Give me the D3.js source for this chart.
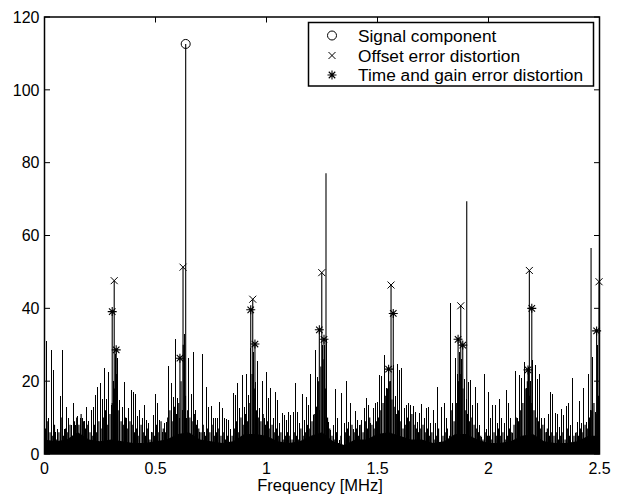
<!DOCTYPE html>
<html><head><meta charset="utf-8">
<script src="https://cdn.jsdelivr.net/npm/d3@7/dist/d3.min.js"></script>
<style>
html,body{margin:0;padding:0;background:#fff;}
text{font-family:"Liberation Sans",Arial,Helvetica,sans-serif;fill:#000;}
</style></head>
<body>
<svg id="chart" width="621" height="495"></svg>
<script>
// ---- data ----
const xTicks = [0, 0.5, 1, 1.5, 2, 2.5];
const xTickLabels = ["0", "0.5", "1", "1.5", "2", "2.5"];
const yTicks = [0, 20, 40, 60, 80, 100, 120];
const xLabel = "Frequency [MHz]";
const legendLabels = ["Signal component", "Offset error distortion", "Time and gain error distortion"];

// noise spectrum bins (0.01 MHz spacing), magnitude of the taller stems
const binWidth = 0.01;
const noiseValues = [
 4,31,10,28.5,23,6,7,16,28.5,7, 13,10,8,14,8,10.5,10,10,9,13,
 9,12,13,16.3,18.5,19.4,15,23.5,15,22.6, 13.4,20,27.5,26.3,14.8,13,19.8,9.8,12.5,17.6,
 17.1,16.6,10.4,12,10,13.4,9.3,8.4,6,10.7, 16.6,14,9.3,6,8.4,8.9,24.2,19.4,15.7,31.6,
 15.3,10,12,33,10,26.3,16.6,28.1,12,9.3, 6,27.5,6.1,18.5,13,13.3,10,9.8,9.8,14.4,
 12.5,9.8,9.5,9.3,7,16.8,16.2,19.4,12.5,21.7, 13,21.9,16.2,29,28,19.8,25.6,12.5,20.1,9.8,
 22.4,15.3,18,10,17.1,14.8,8.4,11.2,10.7,9.3, 11.6,10.7,11.6,19.4,11.6,8.4,16.6,9.3,15.7,13.4,
 22.1,10.7,28.5,21.2,12,30,30,31.5,8.9,6.6, 8,17.8,10,3.8,16.8,8.4,20.1,8.9,14,7,
 11.9,9.3,8,9.3,12.5,15.3,13.4,8.4,12.5,14, 14.4,21.7,21.4,27.2,18,24,20,24.4,16,24.7,
 23.2,23.5,12.5,13.4,14.1,13.4,13.2,11.6,8.9,11.2, 13.6,9.8,12.5,13,8.4,12,8.4,18.5,3.4,13,
 14.1,10,3.8,41.4,14,26.3,22,28,26,20.5, 15,19.8,20.3,13.4,18.5,14,8,4.7,22.1,7,
 17.1,9.8,13.4,13.4,8.4,15,10,8.4,17.6,14, 9.8,5.7,22.9,9.8,21.7,20.8,25.3,18,24,20,
 25.8,24.4,20.5,22,10,9.8,6.1,11,17.1,16.6, 11.2,11,7.5,12.3,10.7,13.2,14,8,20.8,5.7,
 8.9,14.5,8.4,18,8.9,22.1,12,26.7,11.6,30, 20
];
// in-between bins (offset by half a bin), lower stems of the dense floor
const lowValues = [
 7,9,6,5,8,4,6,10,5,7, 6,8,5,9,10,8,11,9,7,8,
 6,5,8,6,9,7,10,12,8,11, 14,18,22,12,9,8,10,7,9,8,
 6,7,5,8,6,5,7,4,6,5, 8,6,9,7,6,10,12,9,13,11,
 14,20,30,16,12,10,9,11,8,7, 6,8,5,7,6,8,5,6,7,5,
 6,4,5,3,5,7,9,6,10,8, 11,9,14,22,18,12,10,9,11,8,
 9,7,8,6,7,5,6,4,5,6, 5,4,6,5,4,7,5,6,8,7,
 9,11,13,20,24,26,18,10,7,5, 4,6,3,5,2,6,7,5,8,6,
 7,5,8,6,9,7,10,8,7,9, 10,12,14,16,18,20,15,13,11,12,
 9,7,8,10,9,11,8,7,6,7, 8,6,7,5,6,4,5,7,3,5,
 6,7,5,12,9,14,20,22,18,12, 11,9,10,8,7,6,5,4,6,5,
 5,4,6,5,7,5,6,4,5,7, 6,8,10,9,12,14,18,20,16,14,
 12,10,9,7,8,6,7,5,6,5, 6,4,5,6,4,7,5,3,5,6,
 5,7,6,8,7,10,12,14,11,16
];
// solid floor level (0.05 MHz spacing)
const floorStep = 0.05;
const floorValues = [
 4,3.5,4,6,4,3.5,4,3.5,3,3, 3.5,4,5.5,6,4,3.5,3,3.5,5.5,5.5,
 5,3.5,3,3.5,5,6,3.5,2.5,4,4, 5.5,6,5,4,4,3,3.5,5.5,5.5,4,
 3,3,3.5,5,5.5,3.5,3,3,3.5,5, 5
];
// strong unmarked spurs
const spurFreq = [1.268, 1.902, 2.462];
const spurValue = [77.1, 69.4, 56.6];
// signal component
const signalFreq = [0.636];
const signalValue = [112.6];
// offset error distortion
const offsetFreq = [0.314, 0.624, 0.938, 1.249, 1.561, 1.875, 2.184, 2.498];
const offsetValue = [47.6, 51.3, 42.5, 49.8, 46.4, 40.7, 50.4, 47.3];
// time and gain error distortion
const tgFreq = [0.305, 0.323, 0.610, 0.929, 0.948, 1.238, 1.259, 1.550, 1.571, 1.863, 1.884, 2.178, 2.195, 2.487];
const tgValue = [39.1, 28.6, 26.3, 39.6, 30.2, 34.1, 31.5, 23.3, 38.6, 31.5, 29.9, 23.1, 40.0, 33.8];

// ---- drawing ----
const svg = d3.select("#chart");
const x = d3.scaleLinear().domain([0, 2.5]).range([44.5, 599.5]);
const y = d3.scaleLinear().domain([0, 120]).range([454, 17]);

const plot = svg.append("g");
plot.append("clipPath").attr("id","clip").append("rect")
  .attr("x", x(0)).attr("y", y(120)).attr("width", x(2.5)-x(0)).attr("height", y(0)-y(120));
const g = plot.append("g").attr("clip-path","url(#clip)");

// floor
const floorData = floorValues.map((v,i)=>({f:i*floorStep, v}));
g.append("path").datum(floorData)
  .attr("d", d3.area().x(d=>x(d.f)).y0(y(0)).y1(d=>y(d.v)))
  .attr("fill","#000");

// low stems
g.selectAll("line.low").data(lowValues).join("line").attr("class","low")
  .attr("x1",(d,i)=>x((i+0.5)*binWidth)).attr("x2",(d,i)=>x((i+0.5)*binWidth))
  .attr("y1",y(0)).attr("y2",d=>y(d))
  .attr("stroke","#000").attr("stroke-width",1.2);

// noise stems
g.selectAll("line.noise").data(noiseValues).join("line").attr("class","noise")
  .attr("x1",(d,i)=>x(i*binWidth)).attr("x2",(d,i)=>x(i*binWidth))
  .attr("y1",y(0)).attr("y2",d=>y(d))
  .attr("stroke","#000").attr("stroke-width",1)
  .attr("shape-rendering","crispEdges");

function stems(fs, vs){
  g.selectAll(null).data(fs).join("line")
    .attr("x1",d=>x(d)).attr("x2",d=>x(d))
    .attr("y1",y(0)).attr("y2",(d,i)=>y(vs[i]))
    .attr("stroke","#000").attr("stroke-width",1.1);
}
stems(spurFreq, spurValue);
stems(tgFreq, tgValue);
stems(offsetFreq, offsetValue);
stems(signalFreq, signalValue);

// markers
function circleMark(sel, cx, cy){
  sel.append("circle").attr("cx",cx).attr("cy",cy).attr("r",4.5)
    .attr("fill","none").attr("stroke","#000").attr("stroke-width",1);
}
function xMark(sel, cx, cy, s){
  sel.append("path").attr("d",`M${cx-s},${cy-s}L${cx+s},${cy+s}M${cx-s},${cy+s}L${cx+s},${cy-s}`)
    .attr("stroke","#000").attr("stroke-width",1).attr("fill","none");
}
function starMark(sel, cx, cy, s){
  const d = s*0.72;
  sel.append("path").attr("d",`M${cx-s},${cy}L${cx+s},${cy}M${cx},${cy-s}L${cx},${cy+s}M${cx-d},${cy-d}L${cx+d},${cy+d}M${cx-d},${cy+d}L${cx+d},${cy-d}`)
    .attr("stroke","#000").attr("stroke-width",1.1).attr("fill","none");
}
const mk = svg.append("g");
signalFreq.forEach((f,i)=>circleMark(mk, x(f), y(signalValue[i])));
offsetFreq.forEach((f,i)=>xMark(mk, x(f), y(offsetValue[i]), 3.5));
tgFreq.forEach((f,i)=>starMark(mk, x(f), y(tgValue[i]), 4.5));

// axes box and ticks
const ax = svg.append("g");
ax.append("rect").attr("x",x(0)).attr("y",y(120)).attr("width",x(2.5)-x(0)).attr("height",y(0)-y(120))
  .attr("fill","none").attr("stroke","#000").attr("stroke-width",1.5);
const tl = 5.5;
xTicks.forEach((t,i)=>{
  ax.append("line").attr("x1",x(t)).attr("x2",x(t)).attr("y1",y(0)).attr("y2",y(0)-tl).attr("stroke","#000").attr("stroke-width",1);
  ax.append("line").attr("x1",x(t)).attr("x2",x(t)).attr("y1",y(120)).attr("y2",y(120)+tl).attr("stroke","#000").attr("stroke-width",1);
  ax.append("text").attr("x",x(t)).attr("y",474).attr("text-anchor","middle").attr("font-size",16).text(xTickLabels[i]);
});
yTicks.forEach(t=>{
  ax.append("line").attr("x1",x(0)).attr("x2",x(0)+tl).attr("y1",y(t)).attr("y2",y(t)).attr("stroke","#000").attr("stroke-width",1);
  ax.append("line").attr("x1",x(2.5)).attr("x2",x(2.5)-tl).attr("y1",y(t)).attr("y2",y(t)).attr("stroke","#000").attr("stroke-width",1);
  ax.append("text").attr("x",39.5).attr("y",y(t)).attr("dy","0.36em").attr("text-anchor","end").attr("font-size",16).text(t);
});
ax.append("text").attr("x",(x(0)+x(2.5))/2 - 2).attr("y",491).attr("text-anchor","middle").attr("font-size",16.5).text(xLabel);

// legend
const lg = svg.append("g");
lg.append("rect").attr("x",308.5).attr("y",22.5).attr("width",285).attr("height",63.5)
  .attr("fill","#fff").attr("stroke","#000").attr("stroke-width",1.5);
const rowY = [35.5, 55.5, 75];
circleMark(lg, 332, rowY[0]);
xMark(lg, 332, rowY[1], 3.5);
starMark(lg, 332, rowY[2], 4.5);
legendLabels.forEach((t,i)=>{
  lg.append("text").attr("x",358).attr("y",rowY[i]).attr("dy","0.36em").attr("font-size",17.3).text(t);
});
</script>
</body></html>
